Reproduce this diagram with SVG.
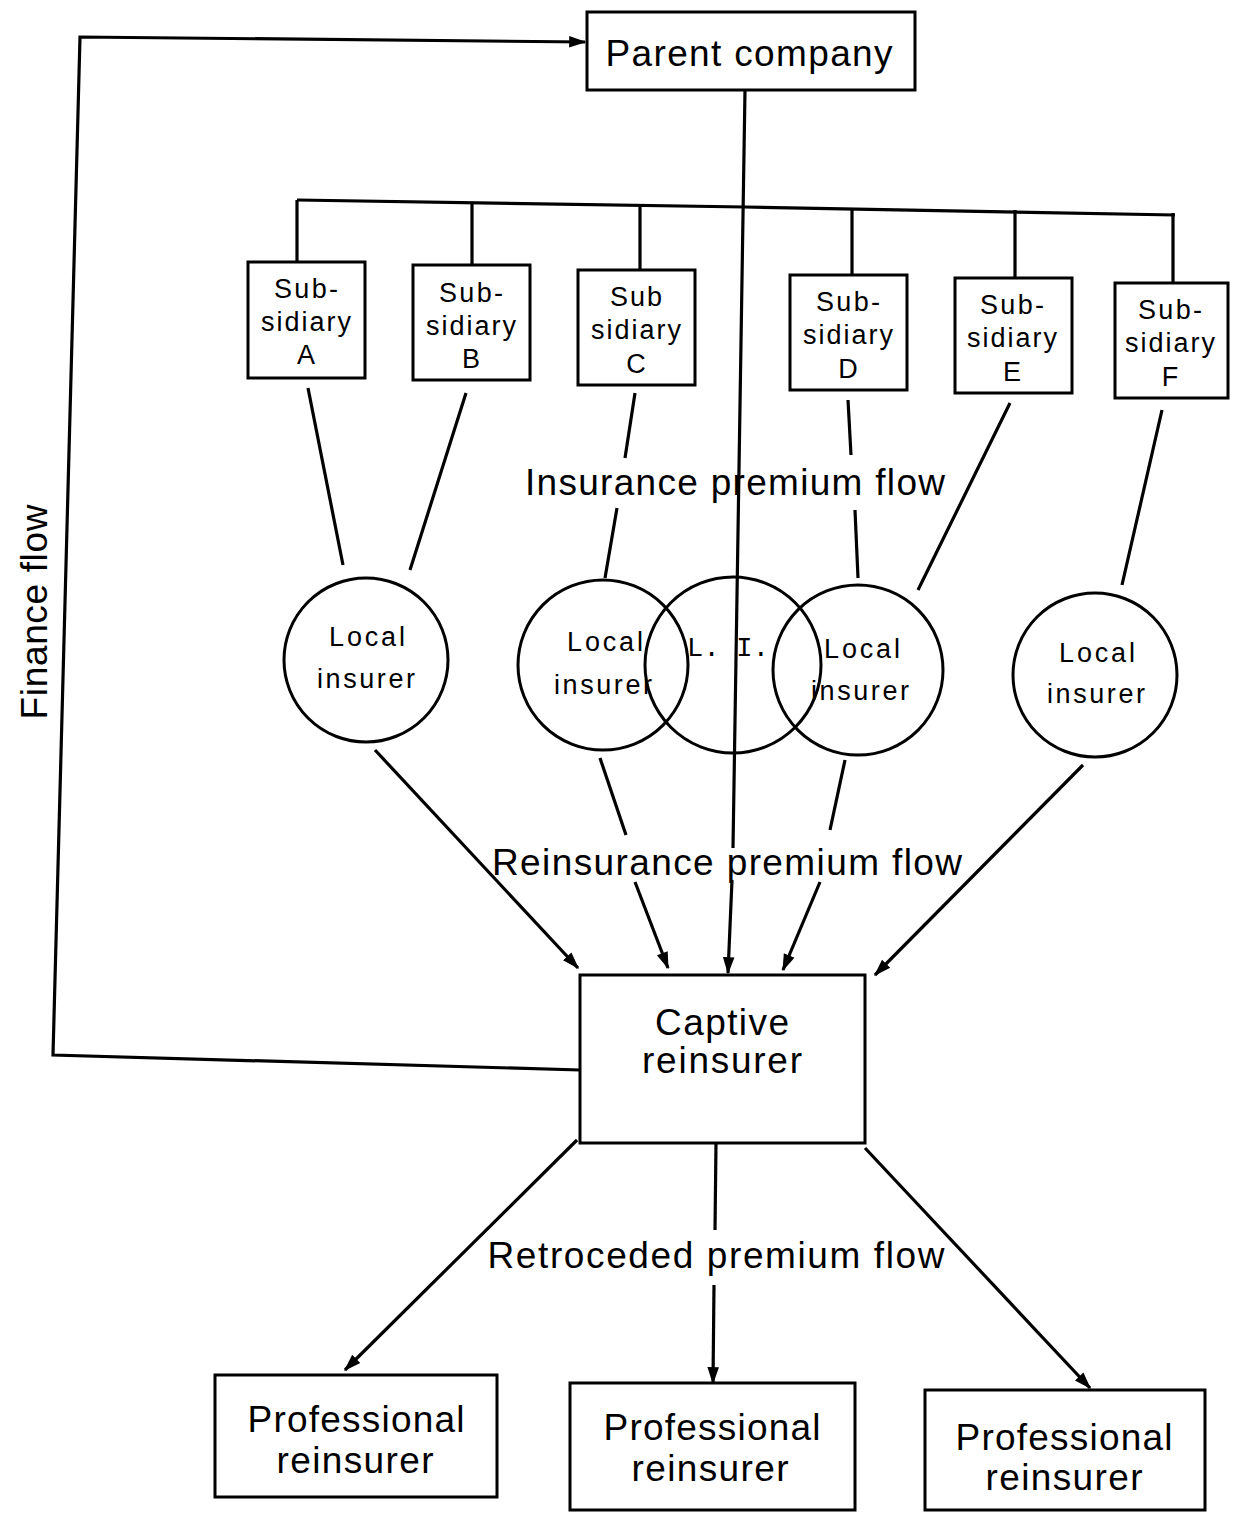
<svg xmlns="http://www.w3.org/2000/svg" width="1234" height="1515" viewBox="0 0 1234 1515">
<style>
.box{fill:#fff;stroke:#000;stroke-width:3}
.circ{fill:none;stroke:#000;stroke-width:3}
.ln{fill:none;stroke:#000;stroke-width:3.2}
text{font-family:"Liberation Sans",Arial,sans-serif;fill:#000;text-anchor:middle}
.sub{font-size:27px}
.loc{font-size:27px}
.lbl{font-size:37px}
.big{font-size:37px}
</style>
<defs>
<marker id="ah" viewBox="0 0 12 10" refX="11" refY="5" markerWidth="5.5" markerHeight="4.5" orient="auto" markerUnits="strokeWidth">
<path d="M0,1 L12,5 L0,9 z" fill="#000"/>
</marker>
</defs>
<rect width="1234" height="1515" fill="#fff"/>
<g id="connectors">
<polyline class="ln" points="580,1070 53,1055 80,37 585,42" marker-end="url(#ah)"/>
<path class="ln" d="M745,90 L733,848 M732,880 L728,973" marker-end="url(#ah)"/>
<polyline class="ln" points="297,200 745,207 1175,215"/>
<path class="ln" d="M297,200 V262 M472,203 V265 M640,205 V270 M852,208 V275 M1015,210 V278 M1173,213 V283"/>
<path class="ln" d="M308,388 L343,565 M466,393 L410,570 M635,393 L625,458 M617,508 L605,578 M848,400 L851,455 M855,510 L858,578 M1010,403 L918,590 M1162,410 L1122,585"/>
<line class="ln" x1="375" y1="750" x2="578" y2="968" marker-end="url(#ah)"/>
<path class="ln" d="M600,758 L626,835"/>
<line class="ln" x1="635" y1="882" x2="668" y2="968" marker-end="url(#ah)"/>
<path class="ln" d="M845,760 L830,830"/>
<line class="ln" x1="820" y1="882" x2="783" y2="970" marker-end="url(#ah)"/>
<line class="ln" x1="1083" y1="765" x2="875" y2="975" marker-end="url(#ah)"/>
<line class="ln" x1="577" y1="1140" x2="345" y2="1370" marker-end="url(#ah)"/>
<path class="ln" d="M716,1143 L715,1230"/>
<line class="ln" x1="714" y1="1285" x2="713" y2="1383" marker-end="url(#ah)"/>
<line class="ln" x1="865" y1="1148" x2="1090" y2="1388" marker-end="url(#ah)"/>
<text class="lbl" x="735" y="495" textLength="420">Insurance premium flow</text>
<text class="lbl" x="727" y="875" textLength="470">Reinsurance premium flow</text>
<text class="lbl" x="716" y="1268" textLength="457">Retroceded premium flow</text>
<text class="lbl" transform="translate(47,612) rotate(-90)" textLength="215">Finance flow</text>
</g>
<g id="parent">
<rect class="box" x="587" y="12" width="328" height="78"/>
<text class="big" x="749" y="66" textLength="287">Parent company</text>
</g>
<g id="subA"><rect class="box" x="248" y="262" width="117" height="116"/>
<text class="sub" x="306" y="298" textLength="64">Sub-</text><text class="sub" x="306" y="331" textLength="90">sidiary</text><text class="sub" x="306" y="364">A</text></g>
<g id="subB"><rect class="box" x="413" y="265" width="117" height="115"/>
<text class="sub" x="471" y="302" textLength="64">Sub-</text><text class="sub" x="471" y="335" textLength="90">sidiary</text><text class="sub" x="471" y="368">B</text></g>
<g id="subC"><rect class="box" x="578" y="270" width="117" height="115"/>
<text class="sub" x="636" y="306" textLength="52">Sub</text><text class="sub" x="636" y="339" textLength="90">sidiary</text><text class="sub" x="636" y="373">C</text></g>
<g id="subD"><rect class="box" x="790" y="275" width="117" height="115"/>
<text class="sub" x="848" y="311" textLength="64">Sub-</text><text class="sub" x="848" y="344" textLength="90">sidiary</text><text class="sub" x="848" y="378">D</text></g>
<g id="subE"><rect class="box" x="955" y="278" width="117" height="115"/>
<text class="sub" x="1012" y="314" textLength="64">Sub-</text><text class="sub" x="1012" y="347" textLength="90">sidiary</text><text class="sub" x="1012" y="381">E</text></g>
<g id="subF"><rect class="box" x="1115" y="283" width="113" height="115"/>
<text class="sub" x="1170" y="319" textLength="64">Sub-</text><text class="sub" x="1170" y="352" textLength="90">sidiary</text><text class="sub" x="1170" y="386">F</text></g>
<g id="local1"><circle class="circ" cx="366" cy="660" r="82"/>
<text class="loc" x="367" y="646" textLength="76">Local</text><text class="loc" x="366" y="688" textLength="98">insurer</text></g>
<g id="local2"><circle class="circ" cx="603" cy="665" r="85"/>
<text class="loc" x="605" y="651" textLength="76">Local</text><text class="loc" x="603" y="694" textLength="98">insurer</text></g>
<g id="li"><circle class="circ" cx="733" cy="665" r="88"/>
<text class="sub" x="728" y="656" style="font-family:'Liberation Mono',monospace" textLength="82">L. I.</text></g>
<g id="local3"><circle class="circ" cx="858" cy="670" r="85"/>
<text class="loc" x="862" y="658" textLength="76">Local</text><text class="loc" x="860" y="700" textLength="98">insurer</text></g>
<g id="local4"><circle class="circ" cx="1095" cy="675" r="82"/>
<text class="loc" x="1097" y="662" textLength="76">Local</text><text class="loc" x="1096" y="703" textLength="98">insurer</text></g>
<g id="captive"><rect class="box" x="580" y="975" width="285" height="168"/>
<text class="big" x="722" y="1035" textLength="134">Captive</text><text class="big" x="722" y="1073" textLength="160">reinsurer</text></g>
<g id="prof1"><rect class="box" x="215" y="1375" width="282" height="122"/>
<text class="big" x="356" y="1432" textLength="217">Professional</text><text class="big" x="355" y="1473" textLength="157">reinsurer</text></g>
<g id="prof2"><rect class="box" x="570" y="1383" width="285" height="127"/>
<text class="big" x="712" y="1440" textLength="217">Professional</text><text class="big" x="710" y="1481" textLength="157">reinsurer</text></g>
<g id="prof3"><rect class="box" x="925" y="1390" width="280" height="120"/>
<text class="big" x="1064" y="1450" textLength="217">Professional</text><text class="big" x="1064" y="1490" textLength="157">reinsurer</text></g>
</svg>
